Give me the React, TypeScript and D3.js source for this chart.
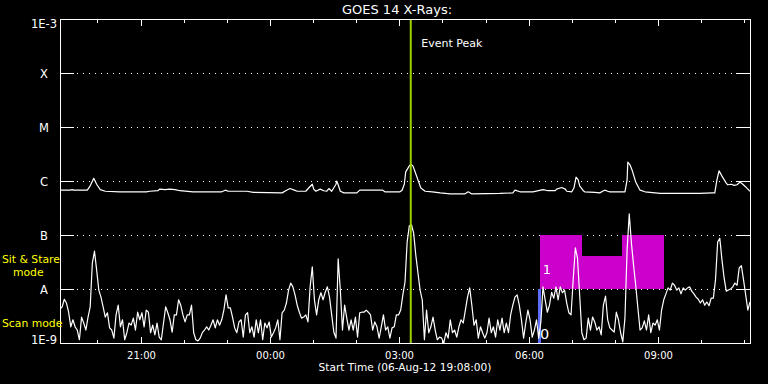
import React from 'react';
import * as d3 from 'd3';

// Start of the plot (UTC) and its length in minutes
const START_UTC = Date.UTC(2012, 7, 6, 19, 8, 0);
const SPAN_MIN = 960;

// Short channel (0.5-4 A), log10 flux, sampled every 3 minutes from start
const SHORT_STEP_MIN = 3;
const shortLog = [
  -8.37,-8.33,-8.19,-8.26,-8.43,-8.70,-8.57,-8.70,-8.76,-8.94,
  -8.52,-8.63,-8.76,-8.52,-8.33,-7.52,-7.30,-7.65,-8.02,-8.15,
  -8.33,-8.52,-8.44,-8.72,-8.76,-8.91,-8.48,-8.30,-8.70,-8.57,
  -8.94,-8.81,-8.63,-8.67,-8.54,-8.76,-8.43,-8.57,-8.44,-8.70,
  -8.39,-8.43,-8.81,-8.67,-8.85,-8.63,-8.89,-8.94,-8.63,-8.33,
  -8.44,-8.57,-8.80,-8.48,-8.48,-8.20,-8.30,-8.48,-8.61,-8.48,
  -8.48,-8.30,-8.81,-8.94,-8.96,-8.91,-8.81,-8.76,-8.70,-8.76,
  -8.67,-8.57,-8.72,-8.57,-8.67,-8.57,-8.39,-8.11,-8.35,-8.35,
  -8.52,-8.72,-8.81,-8.61,-8.57,-8.89,-8.48,-8.44,-8.81,-8.70,
  -8.89,-8.57,-8.81,-8.57,-8.94,-8.63,-8.72,-8.61,-8.89,-8.81,
  -8.72,-8.57,-8.94,-8.44,-8.39,-8.26,-8.02,-7.89,-7.96,-8.11,
  -8.30,-8.43,-8.54,-8.52,-8.48,-8.61,-7.96,-7.59,-8.20,-8.48,
  -8.20,-8.07,-8.20,-8.06,-7.96,-8.15,-8.48,-8.80,-8.91,-7.44,
  -8.02,-8.76,-8.30,-8.54,-8.76,-8.57,-8.76,-8.52,-8.89,-8.44,
  -8.43,-8.43,-8.39,-8.43,-8.48,-8.76,-8.61,-8.70,-8.91,-8.70,
  -8.48,-8.76,-8.70,-8.91,-8.72,-8.70,-8.48,-8.48,-8.39,-8.11,
  -7.87,-7.13,-6.83,-6.81,-6.96,-7.37,-7.70,-8.02,-8.20,-8.94,
  -8.39,-8.81,-8.70,-8.52,-8.76,-8.94,-8.89,-8.91,-9.00,-8.81,
  -8.91,-8.57,-8.81,-8.76,-8.89,-8.70,-8.57,-8.63,-8.39,-8.15,
  -7.98,-8.30,-8.67,-8.57,-8.91,-8.70,-8.81,-8.91,-8.81,-8.54,
  -8.81,-8.70,-8.89,-8.57,-8.76,-8.54,-8.81,-8.63,-8.81,-8.48,
  -8.30,-8.15,-8.11,-8.30,-8.57,-8.91,-8.63,-8.39,-8.57,-8.89,
  -8.76,-8.57,-8.91,-8.61,-7.96,-8.20,-8.43,-8.30,-8.06,-8.17,
  -7.96,-8.20,-7.96,-8.07,-8.02,-8.26,-8.44,-8.48,-7.83,-7.24,
  -7.43,-8.11,-8.81,-8.94,-8.91,-8.54,-8.76,-8.52,-8.61,-8.76,
  -8.70,-8.85,-8.30,-8.13,-8.57,-8.72,-8.76,-8.80,-8.43,-8.57,
  -8.81,-8.98,-8.54,-7.28,-6.61,-7.15,-7.56,-7.93,-8.35,-8.76,
  -8.72,-8.59,-8.76,-8.48,-8.81,-8.63,-8.67,-8.57,-8.76,-8.39,
  -8.20,-8.09,-7.98,-8.02,-7.89,-7.93,-8.02,-7.98,-8.09,-7.98,
  -8.02,-7.98,-7.96,-8.04,-8.09,-8.15,-8.19,-8.26,-8.20,-8.30,
  -8.24,-8.31,-8.17,-8.17,-7.83,-7.13,-7.06,-7.46,-7.80,-8.04,
  -8.02,-8.00,-7.96,-7.89,-7.93,-7.61,-7.57,-7.83,-8.11,-8.39,
  -8.24,
];

// Long channel (1-8 A): minutes since start and log10 flux
const longMin = [
  0,14,17,19,38,42,47,51,56,63,
  83,120,125,136,139,146,153,160,167,185,
  225,230,234,260,269,309,314,320,326,330,
  342,346,351,353,356,362,367,371,374,378,
  384,385,387,390,395,413,417,449,452,463,
  473,476,479,481,486,488,491,494,498,502,
  508,518,529,543,563,568,573,612,630,633,
  640,650,658,672,679,689,691,698,703,705,
  712,715,718,721,723,728,730,744,751,755,
  758,762,765,786,789,790,793,796,801,807,
  814,835,863,890,907,911,914,917,921,927,
  929,934,938,942,946,950,954,960,
];
const longLog = [
  -6.17,-6.17,-6.16,-6.17,-6.17,-6.09,-5.95,-6.06,-6.16,-6.19,
  -6.20,-6.20,-6.19,-6.18,-6.15,-6.16,-6.15,-6.16,-6.18,-6.20,
  -6.20,-6.17,-6.19,-6.19,-6.21,-6.22,-6.18,-6.14,-6.17,-6.19,
  -6.19,-6.13,-6.06,-6.15,-6.19,-6.15,-6.18,-6.19,-6.14,-6.19,
  -6.06,-6.00,-6.07,-6.19,-6.22,-6.22,-6.17,-6.17,-6.20,-6.20,
  -6.20,-6.17,-6.06,-5.83,-5.72,-5.69,-5.72,-5.83,-5.98,-6.13,
  -6.19,-6.20,-6.22,-6.24,-6.24,-6.20,-6.24,-6.23,-6.22,-6.17,
  -6.20,-6.20,-6.20,-6.16,-6.18,-6.18,-6.15,-6.12,-6.15,-6.19,
  -6.20,-6.13,-5.93,-5.98,-6.09,-6.18,-6.20,-6.21,-6.22,-6.19,
  -6.17,-6.19,-6.20,-6.20,-5.98,-5.65,-5.70,-5.80,-6.02,-6.17,
  -6.20,-6.23,-6.23,-6.23,-6.22,-6.22,-5.98,-5.81,-5.91,-6.04,
  -6.07,-6.06,-6.08,-6.07,-6.02,-6.06,-6.11,-6.19,
];

// Y axis levels (log10 W/m^2) and their labels
const yLevelExp = [-9, -8, -7, -6, -5, -4, -3];
const yLevelLabels = ['1E-9', 'A', 'B', 'C', 'M', 'X', '1E-3'];
const gridExp = [-8, -7, -6, -5, -4];

// Event peak and mode blocks (minutes since start)
const eventPeakMin = 488;
const modeStartMin = [668, 726, 782];
const modeEndMin = [726, 782, 840];
const modeTopExp = [-7, -7.39, -7];
const modeBaseExp = -8;
const scanMarkMin = 667;

const W = 768, H = 384;
const L = 60, R = 750, T = 19, B = 343;

export default function App() {
  const tAt = (m: number) => new Date(START_UTC + m * 60000);
  const x = d3.scaleUtc().domain([tAt(0), tAt(SPAN_MIN)]).range([L, R]);
  const y = d3.scaleLog().domain([1e-9, 1e-3]).range([B, T]);
  const ye = (e: number) => y(Math.pow(10, e));

  const line = d3.line<[number, number]>()
    .x(d => x(tAt(d[0])))
    .y(d => ye(Math.max(-9, d[1])));

  const shortPts: [number, number][] = shortLog.map((v, i) => [i * SHORT_STEP_MIN, v]);
  const longPts: [number, number][] = longMin.map((m, i) => [m, longLog[i]]);

  const hourTicks = x.ticks(d3.utcHour.every(1)!);
  const fmt = d3.utcFormat('%H:%M');
  const startLabel = 'Start Time (' + d3.utcFormat('%d-%b-%y %H:%M:%S')(tAt(0)) + ')';

  const font = '"DejaVu Sans", sans-serif';

  return (
    <svg width={W} height={H} style={{ position: 'fixed', left: 0, top: 0, background: '#000' }}
      fontFamily={font}>
      <rect x={0} y={0} width={W} height={H} fill="#000" />
      <defs>
        <clipPath id="plotClip">
          <rect x={L} y={T} width={R - L} height={B - T + 1} />
        </clipPath>
      </defs>

      {/* title */}
      <text x={397} y={14} fill="#fff" fontSize={13} textAnchor="middle">GOES 14 X-Rays:</text>

      {/* dotted grid */}
      {gridExp.map(e => (
        <line key={'g' + e} x1={77} x2={736} y1={Math.round(ye(e)) + 0.5} y2={Math.round(ye(e)) + 0.5}
          stroke="#fff" strokeWidth={1} strokeDasharray="1 5" shapeRendering="crispEdges" />
      ))}

      {/* mode blocks */}
      {modeStartMin.map((s, i) => (
        <rect key={'m' + i} x={x(tAt(s))} width={x(tAt(modeEndMin[i])) - x(tAt(s))}
          y={ye(modeTopExp[i])} height={ye(modeBaseExp) - ye(modeTopExp[i])}
          fill="#cc00cc" shapeRendering="crispEdges" />
      ))}
      <rect x={x(tAt(scanMarkMin)) - 1.5} width={3} y={ye(-8)} height={ye(-9) - ye(-8)}
        fill="#5b6cff" shapeRendering="crispEdges" />
      <text x={x(tAt(modeStartMin[0])) + 2.5} y={ye(-7.72)} fill="#fff" fontSize={13}>1</text>
      <text x={x(tAt(scanMarkMin)) + 0.5} y={338.5} fill="#fff" fontSize={14.5}>0</text>

      {/* curves */}
      <g clipPath="url(#plotClip)">
        <path d={line(longPts) || ''} fill="none" stroke="#fff" strokeWidth={1.2} strokeLinejoin="round" />
        <path d={line(shortPts) || ''} fill="none" stroke="#fff" strokeWidth={1.2} strokeLinejoin="round" />
      </g>

      {/* event peak */}
      <line x1={x(tAt(eventPeakMin))} x2={x(tAt(eventPeakMin))} y1={T} y2={B} stroke="#a0d000" strokeWidth={2} />
      <text x={x(tAt(eventPeakMin)) + 10.5} y={46.5} fill="#fff" fontSize={11}>Event Peak</text>

      {/* frame */}
      <rect x={L + 0.5} y={T + 0.5} width={R - L} height={B - T} fill="none" stroke="#fff" strokeWidth={1}
        shapeRendering="crispEdges" />

      {/* y ticks and labels */}
      {yLevelExp.map((e, i) => {
        const yy = Math.round(ye(e)) + 0.5;
        const lab = yLevelLabels[i];
        const isNum = lab.length > 1;
        const by = i === yLevelExp.length - 1 ? yy + 8 : isNum ? yy : yy + 4.5;
        return (
          <g key={'y' + e}>
            <line x1={L} x2={L + 14} y1={yy} y2={yy} stroke="#fff" shapeRendering="crispEdges" />
            <line x1={R - 14} x2={R} y1={yy} y2={yy} stroke="#fff" shapeRendering="crispEdges" />
            <text x={isNum ? 57 : 44} y={by} fill="#fff" fontSize={11.5}
              textAnchor={isNum ? 'end' : 'middle'}>{lab}</text>
          </g>
        );
      })}

      {/* x ticks */}
      {hourTicks.map(t => {
        const xx = Math.round(x(t)) + 0.5;
        const major = t.getUTCHours() % 3 === 0;
        const len = major ? 7 : 4;
        return (
          <g key={'x' + t.getTime()}>
            <line x1={xx} x2={xx} y1={T} y2={T + len} stroke="#fff" shapeRendering="crispEdges" />
            <line x1={xx} x2={xx} y1={B + 1} y2={B + 1 - len} stroke="#fff" shapeRendering="crispEdges" />
            {major && (
              <text x={xx} y={359} fill="#fff" fontSize={10} textAnchor="middle">{fmt(t)}</text>
            )}
          </g>
        );
      })}
      <text x={(L + R) / 2} y={371} fill="#fff" fontSize={10.6} textAnchor="middle">{startLabel}</text>

      {/* mode labels */}
      <text x={2} y={262.5} fill="#ffff00" fontSize={10.8}>Sit &amp; Stare</text>
      <text x={13} y={275.5} fill="#ffff00" fontSize={10.8}>mode</text>
      <text x={2} y={327} fill="#ffff00" fontSize={10.8}>Scan mode</text>
    </svg>
  );
}
